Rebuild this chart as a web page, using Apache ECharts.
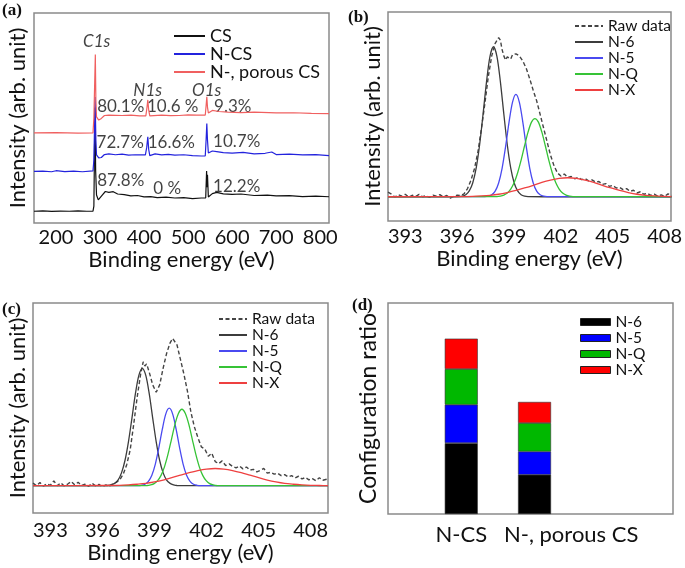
<!DOCTYPE html>
<html><head><meta charset="utf-8">
<script src="https://cdn.jsdelivr.net/npm/echarts@6/dist/echarts.min.js"></script>
<style>html,body{margin:0;padding:0;background:#fff}#c{width:685px;height:568px}</style>
</head><body><div id="c"></div>
<script>
// ---------- Panel (a): XPS survey spectra [binding energy eV, intensity a.u.] ----------
const surveyNames = ['CS', 'N-CS', 'N-, porous CS'];
const surveyCS = [[150,5.6],[170,5.8],[190,5.5],[210,5.7],[230,5.6],[250,5.8],[270,5.6],[284,5.7],[286,8],[288.5,55],[290,25],[292,13.3],[296,11],[300,11.2],[305,13.3],[312,15],[320,14.6],[330,14.9],[340,13.8],[355,13.5],[370,12.9],[385,13.1],[400,12.4],[415,12.6],[430,12.1],[450,12.3],[470,11.9],[490,12.1],[510,11.6],[530,11.9],[540,12.0],[542,24.8],[543,17],[544,23],[546,12.4],[550,13],[555,14],[565,14.6],[580,13.9],[600,13.6],[620,13.8],[650,13.1],[680,13.3],[700,12.9],[730,13.0],[760,12.6],[790,12.8],[820,12.5]];
const surveyNCS = [[150,24.6],[170,24.7],[190,24.4],[200,24.9],[220,24.5],[240,24.7],[260,24.4],[284,24.8],[286,30],[288.8,60],[290.5,39.5],[292,32.4],[297,31],[303,31.2],[310,32.6],[320,32.9],[335,32.5],[350,32.8],[365,32.3],[380,32.5],[403,32.4],[406,36],[408.5,41.1],[410.5,35],[413,32.1],[425,32.9],[440,32.4],[455,32.7],[470,32.3],[490,32.5],[510,32.1],[530,31.9],[539,32],[541,40],[542.5,47.4],[544,39.5],[546,33.3],[550,33.6],[555,34.3],[565,34],[580,33.5],[600,33.3],[625,33.6],[650,32.9],[675,33.2],[690,33.8],[700,32.6],[730,32.8],[760,32.4],[790,32.6],[820,32.1]];
const surveyPorous = [[150,42.9],[200,43],[250,42.8],[284,42.9],[286,50],[289.3,80.2],[290.5,58.6],[292,50.5],[297,49],[303,49.8],[310,51.2],[320,51.4],[350,51.2],[370,51.4],[390,51],[404,51],[406.5,54.8],[408.5,58.6],[410.5,53.8],[413,51],[440,51.4],[460,51.1],[480,51.2],[500,51.5],[520,51.4],[539,51.4],[541,56.2],[542.5,60.1],[544,55.2],[546,52.4],[555,53.6],[570,53.1],[590,52.8],[620,52.6],[650,52.8],[700,52.4],[740,52.5],[780,52.2],[820,52.1]];
const peakLabels = [[292.4,86.2,'C1s'],[408.2,63.3,'N1s'],[542.2,63.3,'O1s']];
const percentLabels = [[347,55.7,'80.1%'],[465,55.7,'10.6 %'],[601.3,55.7,'9.3%'],[345.8,38.3,'72.7%'],[462,38.3,'16.6%'],[610.4,38.6,'10.7%'],[347,20,'87.8%'],[452.5,16.2,'0 %'],[610.4,17.6,'12.2%']];

// ---------- Panel (b): N1s of N-CS ----------
const fitNames = ['N-6', 'N-5', 'N-Q', 'N-X'];
const bRaw = [[392.0,13.8],[392.2,12.9],[392.4,11.5],[392.6,12.6],[392.8,11.9],[393.0,12.8],[393.2,11.4],[393.4,12.3],[393.6,11.8],[393.8,12.7],[394.0,11.6],[394.2,12.1],[394.4,11.3],[394.6,12.4],[394.8,11.9],[395.0,12.6],[395.2,11.5],[395.4,12.2],[395.6,10.9],[395.8,11.8],[396.0,12.4],[396.2,12.1],[396.4,13.0],[396.6,15.5],[396.8,19.5],[397.0,25],[397.2,33],[397.4,44],[397.6,56],[397.8,69],[398.0,79],[398.2,85],[398.4,87.7],[398.5,86.5],[398.6,82],[398.7,79],[398.8,77],[398.9,78.5],[399.0,79],[399.1,77.5],[399.2,79.5],[399.4,80],[399.5,80.2],[399.6,79],[399.8,76.5],[400.0,73],[400.2,68],[400.4,62.5],[400.6,57.5],[400.8,51],[401.0,44.5],[401.2,38],[401.4,31.5],[401.6,26.5],[401.8,23],[402.0,21.5],[402.2,22.5],[402.4,20.8],[402.6,21.3],[402.8,20.2],[403.0,20.9],[403.2,19.8],[403.4,20.3],[403.6,19.2],[403.8,19.7],[404.0,18.6],[404.2,18.9],[404.4,17.5],[404.6,17.9],[404.8,16.6],[405.0,17.0],[405.2,15.8],[405.4,16.1],[405.6,15.0],[405.8,15.5],[406.0,14.2],[406.2,14.7],[406.4,13.4],[406.6,14.0],[406.8,12.8],[407.0,13.3],[407.2,12.3],[407.4,12.9],[407.6,11.9],[407.8,12.5],[408.0,11.8],[408.2,13.0],[408.4,12.2]];
const bN6 = [[392,11.6],[395,11.6],[396.1,11.7],[396.3,11.9],[396.5,12.6],[396.7,14.4],[396.9,18.2],[397.1,25.3],[397.3,36.5],[397.5,51.2],[397.7,66.7],[397.9,78.8],[398.1,83.4],[398.3,78.8],[398.5,66.7],[398.7,51.2],[398.9,36.5],[399.1,25.3],[399.3,18.2],[399.5,14.4],[399.7,12.6],[399.9,11.9],[400.1,11.7],[402,11.6],[408.4,11.6]];
const bN5 = [[392,11.6],[397.6,11.7],[397.8,11.9],[398.0,12.6],[398.2,14.3],[398.4,18.2],[398.6,25.2],[398.8,35.5],[399.0,47.2],[399.2,56.8],[399.4,60.6],[399.6,56.8],[399.8,47.2],[400.0,35.5],[400.2,25.2],[400.4,18.2],[400.6,14.3],[400.8,12.6],[401.0,11.9],[401.2,11.7],[408.4,11.6]];
const bNQ = [[392,11.6],[398.3,11.7],[398.5,11.9],[398.7,12.4],[398.9,13.4],[399.1,15.3],[399.3,18.4],[399.5,23.1],[399.7,29.1],[399.9,36],[400.1,42.5],[400.3,47.3],[400.5,49],[400.7,47.3],[400.9,42.5],[401.1,36],[401.3,29.1],[401.5,23.1],[401.7,18.4],[401.9,15.3],[402.1,13.4],[402.3,12.4],[402.5,11.9],[402.7,11.7],[408.4,11.6]];
const bNX = [[392,11.6],[396,11.7],[396.9,11.8],[397.4,12.0],[397.9,12.3],[398.4,12.8],[398.9,13.6],[399.4,14.6],[399.9,15.8],[400.4,17.1],[400.9,18.5],[401.4,19.6],[401.9,20.4],[402.4,20.7],[402.9,20.4],[403.4,19.6],[403.9,18.5],[404.4,17.1],[404.9,15.8],[405.4,14.6],[405.9,13.6],[406.4,12.8],[406.9,12.3],[407.4,12.0],[407.9,11.8],[408.4,11.7]];

// ---------- Panel (c): N1s of N-, porous CS ----------
const cRaw = [[392.0,14.2],[392.2,13.0],[392.4,14.5],[392.6,12.8],[392.8,13.9],[393.0,13.2],[393.2,15.3],[393.4,13.0],[393.6,14.4],[393.8,12.9],[394.0,13.8],[394.2,15.0],[394.4,13.4],[394.6,14.6],[394.8,13.1],[395.0,13.7],[395.2,12.6],[395.4,14.2],[395.6,12.9],[395.8,13.6],[396.0,12.5],[396.2,13.4],[396.4,12.8],[396.6,13.9],[396.8,14.6],[397.0,15.8],[397.2,18.5],[397.4,23],[397.6,30],[397.8,42],[398.0,55],[398.2,66],[398.35,72],[398.45,70],[398.55,71],[398.7,67],[398.9,61],[399.1,57.5],[399.3,61],[399.5,69],[399.7,76],[399.9,81],[400.05,83.1],[400.15,83],[400.3,80],[400.5,73],[400.7,66],[400.9,58],[401.1,48],[401.3,41],[401.5,36],[401.7,31.5],[401.9,30.5],[402.1,27],[402.3,28.5],[402.5,24.5],[402.7,23.5],[402.9,24.8],[403.1,22.6],[403.3,23.4],[403.5,22.2],[403.7,21.5],[403.9,22.4],[404.1,21.0],[404.3,21.9],[404.5,20.4],[404.7,20.8],[404.9,19.6],[405.1,20.3],[405.3,21.2],[405.5,19.0],[405.7,19.4],[405.9,18.5],[406.1,18.9],[406.3,17.8],[406.5,18.3],[406.7,17.2],[406.9,17.8],[407.1,16.7],[407.3,17.5],[407.5,16.2],[407.7,16.9],[407.9,15.8],[408.1,16.4],[408.3,15.4],[408.5,16.8],[408.7,15.6],[409.0,16.2]];
const cN6 = [[392,13],[396.1,13.0],[396.3,13.1],[396.5,13.4],[396.7,14.1],[396.9,15.7],[397.1,19.1],[397.3,25.0],[397.5,33.9],[397.7,45.1],[397.9,56.7],[398.1,65.5],[398.3,68.9],[398.5,65.5],[398.7,56.7],[398.9,45.1],[399.1,33.9],[399.3,25.0],[399.5,19.1],[399.7,15.7],[399.9,14.1],[400.1,13.4],[400.3,13.1],[409,13]];
const cN5 = [[392,13],[398.05,13.0],[398.25,13.2],[398.45,13.7],[398.65,15.1],[398.85,18.0],[399.05,23.3],[399.25,31.0],[399.45,39.8],[399.65,47.1],[399.85,49.9],[400.05,47.1],[400.25,39.8],[400.45,31.0],[400.65,23.3],[400.85,18.0],[401.05,15.1],[401.25,13.7],[401.45,13.2],[401.65,13.0],[409,13]];
const cNQ = [[392,13],[398.58,13.1],[398.78,13.4],[398.98,14.0],[399.18,15.4],[399.38,17.9],[399.58,22.1],[399.78,28.0],[399.98,35.1],[400.18,42.2],[400.38,47.4],[400.58,49.4],[400.78,47.4],[400.98,42.2],[401.18,35.1],[401.38,28.0],[401.58,22.1],[401.78,17.9],[401.98,15.4],[402.18,14.0],[402.38,13.4],[402.58,13.1],[409,13]];
const cNX = [[392,13],[396,13.1],[397.0,13.2],[397.5,13.4],[398.0,13.7],[398.5,14.1],[399.0,14.8],[399.5,15.7],[400.0,16.8],[400.5,18.0],[401.0,19.2],[401.5,20.2],[402.0,20.9],[402.5,21.2],[403.0,20.9],[403.5,20.2],[404.0,19.2],[404.5,18.0],[405.0,16.8],[405.5,15.7],[406.0,14.8],[406.5,14.1],[407.0,13.7],[407.5,13.4],[408.0,13.2],[408.5,13.1],[409,13.0]];

// ---------- Panel (d): configuration ratio (stacked) ----------
const ratioSamples = ['N-CS', 'N-, porous CS'];
const ratioN6 = [33.6, 18.6];
const ratioN5 = [18.2, 11.0];
const ratioNQ = [16.9, 13.5];
const ratioNX = [14.4, 10.0];

// ---------- chart ----------
const FONT = 'Lato';
const BOX = '#8a8a8a';
const fitColors = {'Raw data':'#444444','N-6':'#3c3c3c','N-5':'#4a4af0','N-Q':'#36c336','N-X':'#ee4040'};
const barColors = {'N-6':'#000000','N-5':'#0000ff','N-Q':'#00b800','N-X':'#ff0000'};
const surveyColors = ['#111111','#2323dd','#f06060'];

const grids = [
  {left:34, top:13, width:295, height:210},
  {left:388, top:12, width:293, height:209},
  {left:33, top:303, width:295, height:210},
  {left:388, top:303, width:285, height:211}
].map(g => Object.assign(g, {show:true, borderColor:BOX, borderWidth:1.5, backgroundColor:'transparent'}));

function xAxis(i, min, max, interval, fmt, name, margin, gap, labelSize){
  return {type:'value', gridIndex:i, min, max, interval, name, nameLocation:'middle', nameGap:gap,
    nameTextStyle:{fontFamily:FONT, fontSize:22, color:'#111'},
    axisLine:{show:false}, axisTick:{show:false}, splitLine:{show:false},
    axisLabel:{formatter:fmt, margin, showMinLabel:true, showMaxLabel:true, hideOverlap:false,
      fontFamily:FONT, fontSize:labelSize, color:'#111'}};
}
function yAxis(i, name, gap, size){
  return {type:'value', gridIndex:i, min:0, max:100, name, nameLocation:'middle', nameGap:gap,
    nameTextStyle:{fontFamily:FONT, fontSize:size, color:'#111', verticalAlign:'bottom'},
    axisLine:{show:false}, axisTick:{show:false}, splitLine:{show:false}, axisLabel:{show:false}};
}
const fmtA = v => (v % 100 === 0 ? String(v) : '');
const fmtBC = v => (Number.isInteger(v) && (v - 393) % 3 === 0 ? String(v) : '');
const fmtD = v => (v === 1 ? ratioSamples[0] : (v === 2.5 ? ratioSamples[1] : ''));

const series = [];
[surveyCS, surveyNCS, surveyPorous].forEach((d, k) => series.push({
  type:'line', name:surveyNames[k], xAxisIndex:0, yAxisIndex:0, data:d, symbol:'none',
  lineStyle:{color:surveyColors[k], width:1.2}, itemStyle:{color:surveyColors[k]}, z:2+k}));
series.push({type:'scatter', xAxisIndex:0, yAxisIndex:0, symbolSize:0, data:peakLabels, silent:true,
  label:{show:true, position:'inside', formatter:p => p.data[2], fontFamily:FONT, fontStyle:'italic', fontSize:17, color:'#111'}});
series.push({type:'scatter', xAxisIndex:0, yAxisIndex:0, symbolSize:0, data:percentLabels, silent:true,
  label:{show:true, position:'inside', formatter:p => p.data[2], fontFamily:FONT, fontSize:17, color:'#111'}});

function addFits(ax, raw, fits){
  series.push({type:'line', name:'Raw data', xAxisIndex:ax, yAxisIndex:ax, data:raw, symbol:'none',
    lineStyle:{color:fitColors['Raw data'], width:1.4, type:[4,2.5]}, itemStyle:{color:fitColors['Raw data']}, z:2});
  fits.forEach((d, k) => series.push({type:'line', name:fitNames[k], xAxisIndex:ax, yAxisIndex:ax, data:d,
    symbol:'none', smooth:0.3, lineStyle:{color:fitColors[fitNames[k]], width:1.3}, itemStyle:{color:fitColors[fitNames[k]]}, z:3+k}));
}
addFits(1, bRaw, [bN6, bN5, bNQ, bNX]);
addFits(2, cRaw, [cN6, cN5, cNQ, cNX]);

// stacked bars: y value stored first so the stack is applied on the y dimension
[ratioN6, ratioN5, ratioNQ, ratioNX].forEach((vals, k) => series.push({
  type:'bar', name:fitNames[k], xAxisIndex:3, yAxisIndex:3, stack:'ratio', barWidth:33,
  dimensions:['ratio','pos'], encode:{x:'pos', y:'ratio'},
  data:vals.map((v, i) => [v, i + 1]),
  itemStyle:{color:barColors[fitNames[k]], borderColor:'#333', borderWidth:0.6}}));

const legTxt = (sz, lh) => ({fontFamily:FONT, fontSize:sz, color:'#111', lineHeight:lh, height:lh});
const noSymbol = {opacity:0};
const legends = [
  {left:168, top:22, orient:'vertical', itemWidth:31, itemHeight:2, itemGap:0, selectedMode:false,
   itemStyle:noSymbol, data:surveyNames, textStyle:legTxt(18, 17.5)},
  {left:569, top:13, orient:'vertical', itemWidth:28, itemHeight:2, itemGap:0, selectedMode:false,
   itemStyle:noSymbol, data:['Raw data'].concat(fitNames), textStyle:legTxt(15.5, 15)},
  {left:213, top:306, orient:'vertical', itemWidth:28, itemHeight:2, itemGap:0, selectedMode:false,
   itemStyle:noSymbol, data:['Raw data'].concat(fitNames), textStyle:legTxt(15.5, 15)},
  {left:575, top:309, orient:'vertical', itemWidth:30, itemHeight:7, itemGap:0, selectedMode:false,
   data:fitNames.map(n => ({name:n, icon:'rect', itemStyle:{color:barColors[n], borderColor:'#222', borderWidth:1, opacity:1}})),
   textStyle:legTxt(15.5, 15.6)}
];

const panelTag = (t, l, tp) => ({text:t, left:l, top:tp, padding:0,
  textStyle:{fontFamily:'Liberation Serif', fontWeight:'bold', fontSize:17, color:'#111'}});

const option = {
  animation:false, backgroundColor:'#fff',
  title:[panelTag('(a)',2,2), panelTag('(b)',348,9), panelTag('(c)',2,301), panelTag('(d)',352,297)],
  grid:grids,
  legend:legends,
  xAxis:[
    xAxis(0, 150, 820, 50, fmtA, 'Binding energy (eV)', 5, 24, 20),
    xAxis(1, 392, 408.37, 1, fmtBC, 'Binding energy (eV)', 6, 25, 20),
    xAxis(2, 392, 409, 1, fmtBC, 'Binding energy (eV)', 8, 27, 20),
    xAxis(3, 0, 3.89, 0.5, fmtD, '', 10, 30, 22)
  ],
  yAxis:[
    yAxis(0, 'Intensity (arb. unit)', 5, 22), yAxis(1, 'Intensity (arb. unit)', 4, 22),
    yAxis(2, 'Intensity (arb. unit)', 4, 22), yAxis(3, 'Configuration ratio', 8, 23)
  ],
  series
};
const chart = echarts.init(document.getElementById('c'), null, {renderer:'canvas'});
chart.setOption(option);
</script></body></html>
